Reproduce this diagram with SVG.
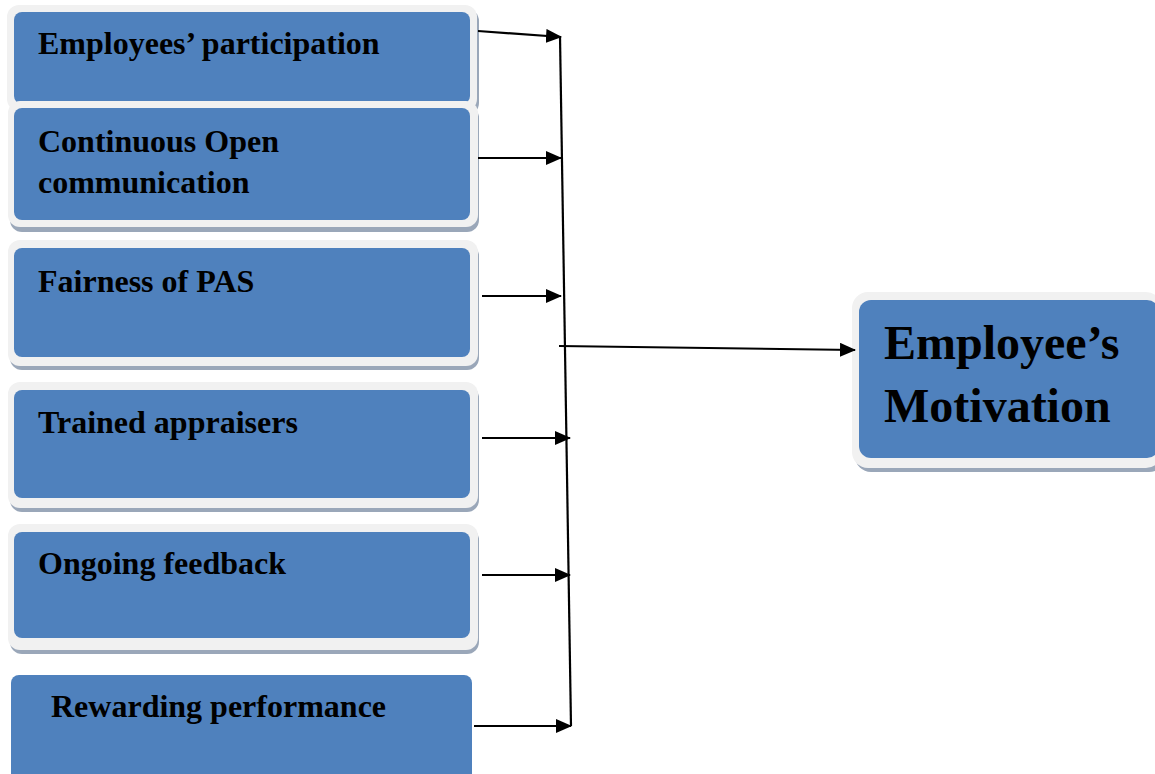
<svg xmlns="http://www.w3.org/2000/svg" width="1155" height="774" viewBox="0 0 1155 774">
<defs>
<style>
.sh{fill:#9aa7b9}
.fr{fill:#f1f1f1}
.bx{fill:#4f81bd}
.t{font-family:"Liberation Serif","Times New Roman",serif;font-weight:bold;font-size:32px;fill:#000}
.tb{font-family:"Liberation Serif","Times New Roman",serif;font-weight:bold;font-size:48px;fill:#000}
.c{stroke:#000;stroke-width:2.2;fill:none}
.a{stroke:#000;stroke-width:2.2;fill:none;marker-end:url(#ah)}
</style>
<marker id="ah" viewBox="0 0 16 14" refX="15" refY="7" markerWidth="16" markerHeight="14" markerUnits="userSpaceOnUse" orient="auto">
<path d="M0,0 L16,7 L0,14 Z" fill="#000"/>
</marker>
</defs>
<rect width="1155" height="774" fill="#fff"/>
<g id="n1">
<rect class="sh" x="10" y="9" width="469" height="106" rx="12"/>
<rect class="fr" x="7" y="5" width="470" height="106" rx="12"/>
<rect class="bx" x="14" y="12" width="456" height="92" rx="8"/>
<text class="t" x="38" y="54">Employees’ participation</text>
</g>
<g id="n2">
<rect class="sh" x="10" y="106" width="469" height="126" rx="12"/>
<rect class="fr" x="8" y="101" width="470" height="126" rx="12"/>
<rect class="bx" x="14" y="108" width="456" height="112" rx="8"/>
<text class="t" x="38" y="152">Continuous Open</text>
<text class="t" x="38" y="193">communication</text>
</g>
<g id="n3">
<rect class="sh" x="10" y="244" width="469" height="126" rx="12"/>
<rect class="fr" x="8" y="240" width="470" height="126" rx="12"/>
<rect class="bx" x="14" y="248" width="456" height="109" rx="8"/>
<text class="t" x="38" y="292">Fairness of PAS</text>
</g>
<g id="n4">
<rect class="sh" x="10" y="386" width="469" height="126" rx="12"/>
<rect class="fr" x="8" y="382" width="470" height="126" rx="12"/>
<rect class="bx" x="14" y="390" width="456" height="108" rx="8"/>
<text class="t" x="38" y="433">Trained appraisers</text>
</g>
<g id="n5">
<rect class="sh" x="10" y="528" width="469" height="126" rx="12"/>
<rect class="fr" x="8" y="524" width="470" height="126" rx="12"/>
<rect class="bx" x="14" y="532" width="456" height="106" rx="8"/>
<text class="t" x="38" y="574">Ongoing feedback</text>
</g>
<g id="n6">
<rect class="bx" x="11" y="675" width="461" height="110" rx="8"/>
<text class="t" x="51" y="717">Rewarding performance</text>
</g>
<g id="n7">
<rect class="sh" x="855" y="296" width="310" height="176" rx="16"/>
<rect class="fr" x="852" y="292" width="310" height="176" rx="16"/>
<rect class="bx" x="859" y="300" width="300" height="158" rx="12"/>
<text class="tb" x="884" y="359">Employee’s</text>
<text class="tb" x="884" y="422">Motivation</text>
</g>
<g id="connectors">
<path class="c" d="M560,36 L571,726"/>
<path class="a" d="M478,31 L561,37"/>
<path class="a" d="M478,158 L561,158"/>
<path class="a" d="M482,296 L561,296"/>
<path class="a" d="M482,438 L570,438"/>
<path class="a" d="M482,575 L570,575"/>
<path class="a" d="M474,726 L571,726"/>
<path class="a" d="M559,346 L855,350"/>
</g>
</svg>
